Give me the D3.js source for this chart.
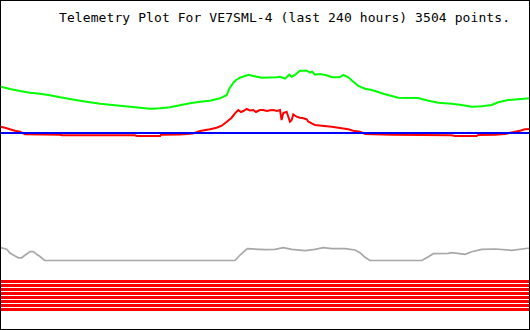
<!DOCTYPE html>
<html><head><meta charset="utf-8">
<script src="https://cdn.jsdelivr.net/npm/d3@7"></script>
<style>html,body{margin:0;padding:0;background:#fff;}svg{display:block;}</style>
</head><body>
<script>
const title = "Telemetry Plot For VE7SML-4 (last 240 hours) 3504 points.";
const hoursSpan = 240;
// [hours, value]
const greenSeries = [[0,243.5],[4.5,241],[9.1,239],[13.6,237.3],[18.1,236.3],[22.6,234.7],[27.2,232.7],[31.7,231],[36.2,229.3],[40.8,227.7],[45.3,226.3],[49.8,225.3],[54.3,224.3],[58.9,223.3],[63.4,222.3],[67.9,221.3],[72.5,221.7],[77,222.7],[81.5,224.7],[86,226.7],[90.6,228.3],[95.1,229.3],[99.6,231.7],[102.7,235],[103.7,240.7],[105.7,247.3],[106.9,250],[108.7,252.3],[112.5,255.3],[114.7,254],[118.5,252.3],[125.3,252.7],[126.8,253.3],[129.1,251.3],[131,255.3],[132.1,253.3],[133.6,255],[135.8,259.3],[138.9,259.3],[140.4,257.3],[141.3,258.5],[142.6,255.3],[144.9,256],[147.9,254.7],[150.2,252.7],[153.7,252.7],[155.5,255],[157.7,252.7],[160,248.3],[162.3,244],[165.3,241.3],[168.3,240],[171.3,238],[174.3,235.7],[177.4,234],[180.4,232.3],[189.4,232],[194,229.3],[198.5,227.3],[204.5,226.3],[209.1,225],[213.6,223.3],[218.1,223.7],[222.7,225],[225.6,227.7],[230.2,230],[234.7,230.7],[240,231.7]];
const redSeries = [[0,203.3],[2.3,202.3],[4.5,200.7],[6.8,199.3],[9.1,198.3],[11.3,195.7],[27.2,195.3],[28.1,194.7],[61.1,194.7],[62,194],[72.5,194],[72.9,195.3],[81.5,195.5],[87.4,196.5],[90.6,199],[95.1,200.7],[98.1,202.3],[100.4,204.3],[102.7,208.3],[104.9,212.3],[106.4,216.7],[107.9,220],[109.1,218],[110.2,219],[111.7,221],[113.2,219.5],[114.7,220],[115.9,218],[117.7,220],[119.2,220],[120.9,219],[122.3,219.7],[123.8,220],[125.4,219],[126.8,220],[127.5,210],[128.3,217],[129.8,218.3],[131.3,208.3],[132.1,210],[132.8,215.7],[134.3,213.3],[135.8,212.3],[137.4,211.7],[138.9,210.7],[139.6,208.3],[140.4,207.7],[141.1,206.7],[142.6,205],[145.7,204.3],[150.2,203.3],[154.7,201.7],[157.7,200.7],[160,199.3],[163,198.3],[165.3,196],[177.4,195.3],[204.5,194.7],[206,194],[215.8,194],[216.6,195],[224.2,195.3],[228.7,196],[233.2,198.3],[235.5,199.3],[237.7,200.7],[240,201]];
const blueSeries = [[0,197],[240,197]];
const graySeries = [[0,82.5],[1.5,81.7],[3,80.7],[4.5,77],[6.8,74],[8.3,72.2],[9.8,72.2],[11.3,74.7],[13.6,78.5],[15.1,78.3],[16.6,75.7],[18.1,73.5],[20.2,69.5],[106.4,69.5],[108.7,75],[112,81.3],[120,80.3],[124.5,80.7],[128.3,82.3],[132.1,80.7],[138.1,79.3],[142.6,80.7],[146.4,82.3],[150.2,81.3],[156.2,81.3],[160.8,80],[163,77.3],[165.3,72.7],[167.5,69.5],[191,69.5],[194,73.3],[196.2,76.3],[203,76.7],[204.5,77.3],[210.6,75.7],[213.6,78.3],[218.1,80.7],[224.2,81],[231.7,79.7],[240,82]];
const digitalBits = [1,1,1,1,1,1,1,1];

const W = 530, H = 330;
const svg = d3.select("body").append("svg").attr("width", W).attr("height", H);
svg.append("rect").attr("width", W).attr("height", H).attr("fill", "#fff");

const x = d3.scaleLinear().domain([0, hoursSpan]).range([0, W]);
const y = d3.scaleLinear().domain([0, 330]).range([330, 0]);
const bitY = d3.scaleLinear().domain([0, digitalBits.length]).range([280, 312]);

const line = d3.line().x(d => x(d[0])).y(d => y(d[1]));

svg.append("path").datum(graySeries).attr("d", line).attr("fill", "none").attr("stroke", "#a8a8a8").attr("stroke-width", 1.7);
svg.append("path").datum(greenSeries).attr("d", line).attr("fill", "none").attr("stroke", "#00ff00").attr("stroke-width", 2);
svg.append("path").datum(redSeries).attr("d", line).attr("fill", "none").attr("stroke", "#ff0000").attr("stroke-width", 2);
svg.append("path").datum(blueSeries).attr("d", line).attr("fill", "none").attr("stroke", "#0000ff").attr("stroke-width", 2);

svg.selectAll("rect.bit").data(digitalBits).join("rect")
  .attr("class", "bit")
  .attr("x", x(0) + 1).attr("width", x(hoursSpan) - x(0) - 2)
  .attr("y", (d, i) => bitY(i)).attr("height", 3)
  .attr("fill", d => d ? "#ff0000" : "none")
  .attr("shape-rendering", "crispEdges");

svg.append("rect").attr("x", 0.5).attr("y", 0.5).attr("width", W - 1).attr("height", H - 1)
  .attr("fill", "none").attr("stroke", "#000").attr("stroke-width", 1).attr("shape-rendering", "crispEdges");

svg.append("text").attr("x", 59).attr("y", 22)
  .attr("font-family", "'DejaVu Sans Mono', monospace").attr("font-size", 13)
  .attr("textLength", 451).attr("lengthAdjust", "spacing")
  .attr("fill", "#000").text(title);
</script>
</body></html>
